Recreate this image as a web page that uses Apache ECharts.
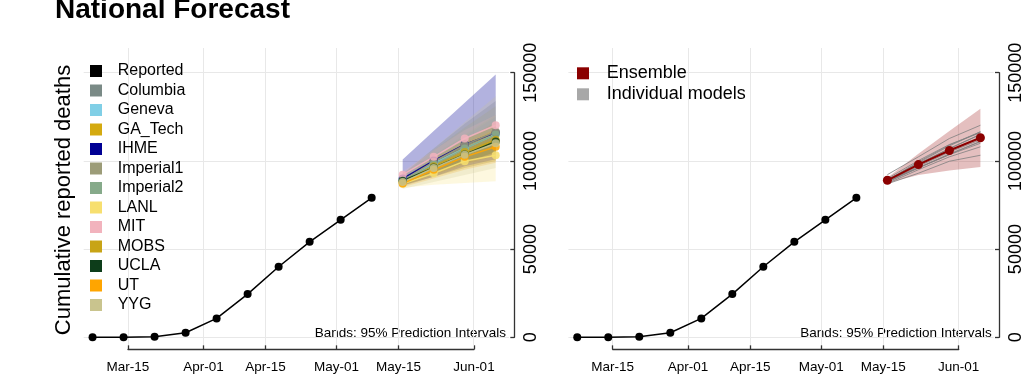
<!DOCTYPE html>
<html>
<head>
<meta charset="utf-8">
<title>National Forecast</title>
<script src="https://cdn.jsdelivr.net/npm/echarts@6/dist/echarts.min.js"></script>
<style>
  html, body { margin: 0; padding: 0; background: #fff; }
  #main { width: 1024px; height: 375px; }
</style>
</head>
<body>
<div id="main"></div>
<script>
var FONT = '"Liberation Sans", Arial, sans-serif';

// ---- data ----
var tickDates = ['2020-03-15', '2020-04-01', '2020-04-15', '2020-05-01', '2020-05-15', '2020-06-01'];
var tickLabels = ['Mar-15', 'Apr-01', 'Apr-15', 'May-01', 'May-15', 'Jun-01'];
var yTicks = [0, 50000, 100000, 150000];

var reportedDates = ['2020-03-07', '2020-03-14', '2020-03-21', '2020-03-28', '2020-04-04',
  '2020-04-11', '2020-04-18', '2020-04-25', '2020-05-02', '2020-05-09'];
var reportedDeaths = [0, 50, 350, 2600, 10700, 24500, 40000, 54100, 66600, 79100];

var forecastDates = ['2020-05-16', '2020-05-23', '2020-05-30', '2020-06-06'];

var models = ['Columbia', 'Geneva', 'GA_Tech', 'IHME', 'Imperial1', 'Imperial2',
  'LANL', 'MIT', 'MOBS', 'UCLA', 'UT', 'YYG'];
var modelColors = ['#7a8a86', '#80cfe6', '#d4aa10', '#000094', '#9c9c78', '#86aa8a',
  '#f7df6f', '#f2b3bd', '#c8a416', '#0d3d1a', '#ffa500', '#c9c48e'];

var forecastMedian = [
  [89000, 99000, 108500, 116500],
  [89500, 98500, 107000, 115000],
  [88000, 96000, 104000, 111000],
  [90000, 100200, 109300, 116000],
  [89000, 99500, 109000, 116500],
  [88500, 98000, 107000, 115000],
  [87000, 93000, 99800, 103200],
  [92200, 102300, 112700, 120200],
  [88000, 97000, 105000, 112000],
  [88800, 96200, 103600, 111000],
  [87200, 95000, 102300, 108000],
  [88000, 96000, 103500, 110000]
];
var forecastLower = [
  [85500, 91000, 96000, 100000],
  [87500, 94000, 100000, 105000],
  [86000, 91000, 96000, 100000],
  [86000, 91000, 97000, 101000],
  [86000, 93000, 99000, 104000],
  [86000, 93000, 99000, 105000],
  [84800, 86500, 87500, 88400],
  [90500, 99000, 108000, 114000],
  [86000, 92000, 98000, 103000],
  [87000, 93000, 99000, 105000],
  [85000, 90000, 95000, 99000],
  [84000, 88000, 92000, 96000]
];
var forecastUpper = [
  [92500, 107000, 121000, 134000],
  [91500, 103000, 114000, 125000],
  [90000, 101000, 112000, 122000],
  [100800, 117000, 133000, 149000],
  [92000, 106000, 119000, 131000],
  [91000, 103000, 115000, 126000],
  [89500, 99000, 108000, 117000],
  [94000, 106000, 117500, 126000],
  [90000, 102000, 112000, 121000],
  [90500, 99500, 108500, 117000],
  [89500, 100000, 110000, 118000],
  [93000, 107000, 122000, 136700]
];

var ensembleMedian = [89000, 97900, 105900, 113100];
var ensembleLower = [87500, 92000, 94500, 96600];
var ensembleUpper = [90500, 104000, 117000, 129500];

// ---- helpers ----
var origin = Date.parse('2020-03-15');
function dayOf(s) { return (Date.parse(s) - origin) / 86400000; }
var tickDays = tickDates.map(dayOf);
var fDays = forecastDates.map(dayOf);
var rDays = reportedDates.map(dayOf);

function pairs(xs, ys) { return xs.map(function (x, i) { return [x, ys[i]]; }); }

var shift = 484.7;
var grids = [], xAxes = [], yAxes = [], series = [];

for (var k = 0; k < 2; k++) {
  var dx = k * shift;
  var a = k * 2, b = k * 2 + 1;
  grids.push({ left: 83.7 + dx, top: 48, width: 425.3, height: 297.06, outerBoundsMode: 'none' });
  grids.push({ left: 128 + dx, top: 72.7, width: 346, height: 264.6, outerBoundsMode: 'none' });

  xAxes.push({ gridIndex: a, type: 'value', min: -10, max: 86, show: false });
  yAxes.push({ gridIndex: a, type: 'value', min: -4400, max: 164000, show: false });

  xAxes.push({
    gridIndex: b, type: 'value', min: 0, max: 78, position: 'bottom', offset: 12,
    axisLine: { show: true, onZero: false, lineStyle: { color: '#333', width: 1.3 } },
    axisTick: { show: true, inside: true, length: 4, customValues: tickDays, lineStyle: { color: '#333', width: 1.3 } },
    axisLabel: {
      customValues: tickDays, color: '#000', fontSize: 13.5, fontFamily: FONT, margin: 11,
      formatter: function (v) { return tickLabels[tickDays.indexOf(v)]; }
    },
    splitLine: { show: false }
  });
  yAxes.push({
    gridIndex: b, type: 'value', min: 0, max: 150000, interval: 50000, position: 'right', offset: 40.3,
    axisLine: { show: true, onZero: false, lineStyle: { color: '#333', width: 1.3 } },
    axisTick: { show: true, inside: true, length: 4, lineStyle: { color: '#333', width: 1.3 } },
    axisLabel: {
      rotate: 90, color: '#000', fontSize: 18, fontFamily: FONT, margin: 8,
      formatter: function (v) { return String(v); }
    },
    splitLine: { show: false }
  });

  // grid lines (kept below the legend)
  series.push({
    type: 'line', xAxisIndex: a, yAxisIndex: a, data: [], z: 0, silent: true,
    markLine: {
      z: 0, silent: true, symbol: 'none', label: { show: false },
      lineStyle: { color: '#e8e8e8', width: 1, type: 'solid' },
      data: tickDays.map(function (d) { return { xAxis: d }; })
        .concat(yTicks.map(function (v) { return { yAxis: v }; }))
    }
  });
}

function band(name, color, opacity, lo, hi, idx) {
  return {
    type: 'custom', name: name, xAxisIndex: idx, yAxisIndex: idx, silent: true, z: 1,
    data: fDays.map(function (x, i) { return [x, lo[i], hi[i]]; }),
    encode: { x: 0, y: [1, 2] },
    renderItem: function (params, api) {
      if (params.dataIndex !== 0) return null;
      var pts = [];
      for (var i = 0; i < fDays.length; i++) pts.push(api.coord([fDays[i], hi[i]]));
      for (var j = fDays.length - 1; j >= 0; j--) pts.push(api.coord([fDays[j], lo[j]]));
      return { type: 'polygon', shape: { points: pts }, style: { fill: color, opacity: opacity } };
    }
  };
}

// left panel: all models
models.forEach(function (m, i) {
  series.push(band(m + ' band', modelColors[i], m === 'IHME' ? 0.3 : 0.22, forecastLower[i], forecastUpper[i], 0));
});
models.forEach(function (m, i) {
  series.push({
    type: 'line', name: m, xAxisIndex: 0, yAxisIndex: 0, z: 3,
    data: pairs(fDays, forecastMedian[i]),
    symbol: 'circle', symbolSize: 8,
    itemStyle: { color: modelColors[i], opacity: 0.85 },
    lineStyle: { color: modelColors[i], width: 1.5, opacity: 0.9 }
  });
});
series.push({
  type: 'line', name: 'Reported', xAxisIndex: 0, yAxisIndex: 0, z: 4,
  data: pairs(rDays, reportedDeaths), symbol: 'circle', symbolSize: 8,
  itemStyle: { color: '#000' }, lineStyle: { color: '#000', width: 1.5 }
});

// right panel: ensemble
series.push({
  type: 'line', name: 'Reported data', xAxisIndex: 2, yAxisIndex: 2, z: 4,
  data: pairs(rDays, reportedDeaths), symbol: 'circle', symbolSize: 8,
  itemStyle: { color: '#000' }, lineStyle: { color: '#000', width: 1.5 }
});
series.push(band('Ensemble band', '#a52a2a', 0.3, ensembleLower, ensembleUpper, 2));
models.forEach(function (m, i) {
  series.push({
    type: 'line', name: 'Individual models', xAxisIndex: 2, yAxisIndex: 2, z: 2,
    data: pairs(fDays, forecastMedian[i]), symbol: 'none',
    itemStyle: { color: '#a8a8a8' },
    lineStyle: { color: '#7f7f7f', width: 1, opacity: 0.8 }
  });
});
series.push({
  type: 'line', name: 'Ensemble', xAxisIndex: 2, yAxisIndex: 2, z: 4,
  data: pairs(fDays, ensembleMedian), symbol: 'circle', symbolSize: 9,
  itemStyle: { color: '#8b0000' }, lineStyle: { color: '#8b0000', width: 2 }
});

var leftLegend = [{ name: 'Reported', itemStyle: { color: '#000' } }].concat(
  models.map(function (m, i) { return { name: m, itemStyle: { color: modelColors[i], opacity: 1 } }; })
);

var option = {
  animation: false,
  backgroundColor: '#fff',
  title: {
    text: 'National Forecast', left: 55, top: -4, padding: 0,
    textStyle: { fontSize: 28, fontWeight: 'bold', color: '#000', fontFamily: FONT }
  },
  legend: [{
    orient: 'vertical', left: 90, top: 63, padding: 0, itemWidth: 12, itemHeight: 12, itemGap: 3.5,
    icon: 'rect', selectedMode: false, z: 10,
    formatter: function (n) { return '{g|}' + n; },
    textStyle: { fontSize: 16, lineHeight: 16, color: '#000', fontFamily: FONT, rich: { g: { width: 10.7 } } },
    data: leftLegend
  }, {
    orient: 'vertical', left: 577, top: 64.3, padding: 0, itemWidth: 12, itemHeight: 12, itemGap: 3,
    icon: 'rect', selectedMode: false, z: 10,
    formatter: function (n) { return '{g|}' + n; },
    textStyle: { fontSize: 18, lineHeight: 18, color: '#000', fontFamily: FONT, rich: { g: { width: 12.7 } } },
    data: [
      { name: 'Ensemble', itemStyle: { color: '#8b0000' } },
      { name: 'Individual models', itemStyle: { color: '#a8a8a8', opacity: 1 } }
    ]
  }],
  grid: grids,
  xAxis: xAxes,
  yAxis: yAxes,
  series: series,
  graphic: [
    {
      type: 'text', x: 64, y: 200, rotation: Math.PI / 2,
      style: { text: 'Cumulative reported deaths', fontSize: 22, fontFamily: FONT, fill: '#000', align: 'center', verticalAlign: 'middle' }
    },
    {
      type: 'text', x: 506, y: 333.3,
      style: { text: 'Bands: 95% Prediction Intervals', fontSize: 13.5, fontFamily: FONT, fill: '#000', align: 'right', verticalAlign: 'middle' }
    },
    {
      type: 'text', x: 991.7, y: 333.3,
      style: { text: 'Bands: 95% Prediction Intervals', fontSize: 13.5, fontFamily: FONT, fill: '#000', align: 'right', verticalAlign: 'middle' }
    }
  ]
};

var myChart = echarts.init(document.getElementById('main'), null, { renderer: 'canvas' });
myChart.setOption(option);
</script>
</body>
</html>
